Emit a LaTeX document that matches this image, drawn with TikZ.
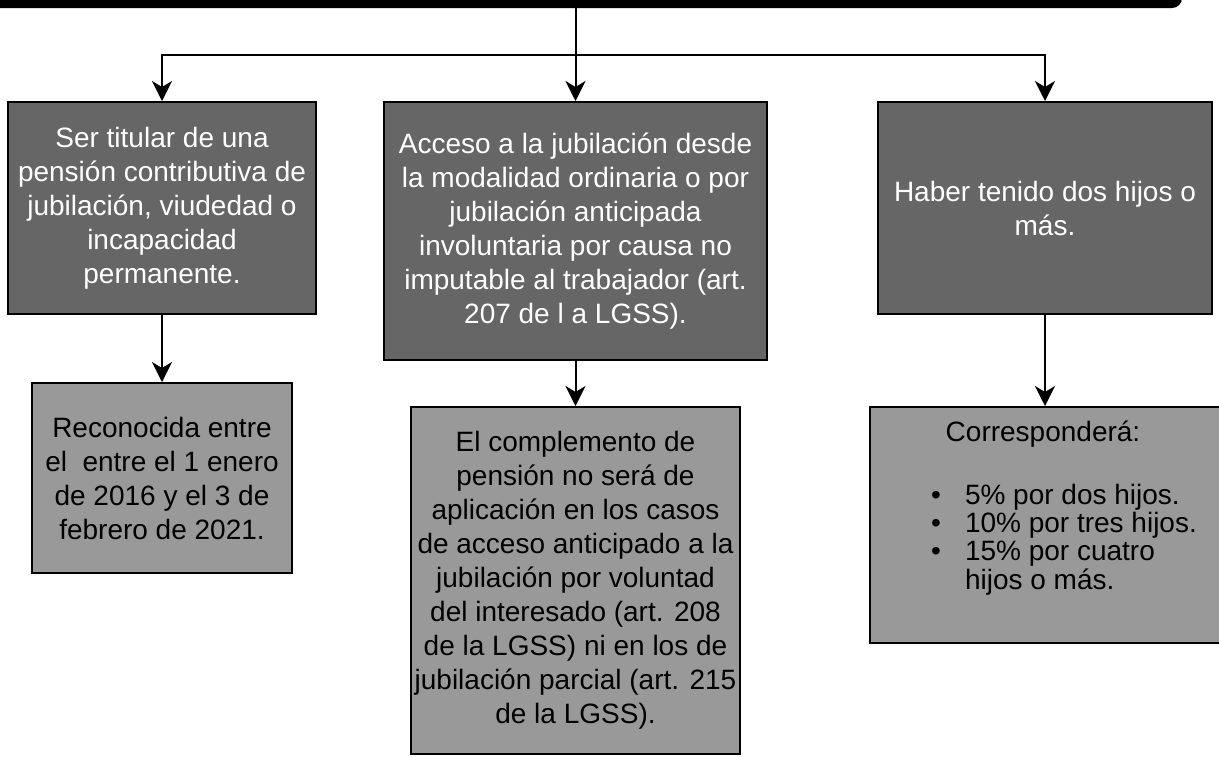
\documentclass[tikz,border=0pt]{standalone}
\usepackage{fontspec}
\setmainfont{Liberation Sans}
\usepackage{xcolor}
\usepackage{tikz}
\usetikzlibrary{positioning,arrows.meta}
\definecolor{boxdark}{HTML}{666666}
\definecolor{boxlight}{HTML}{999999}

\begin{document}
\begin{tikzpicture}[x=1pt, y=-1pt, node distance=50pt,
  every node/.style={inner sep=0pt, align=center, font=\fontsize{28}{34}\selectfont},
  darkbox/.style={draw, line width=2pt, fill=boxdark, text=white},
  lightbox/.style={draw, line width=2pt, fill=boxlight, text=black},
  conn/.style={line width=2pt, -{Stealth[length=20pt, width=20pt, inset=6pt]}}]
\useasboundingbox (0,0) rectangle (1219,756);
\node[fill=black, rounded corners=10pt, minimum width=1202pt, minimum height=48pt] (top) at (581,-16) {};
\node[darkbox, minimum width=308pt, minimum height=212pt] (a1) at (162,208) {Ser titular de una\\pensión contributiva de\\jubilación, viudedad o\\incapacidad\\permanente.};
\node[darkbox, minimum width=383pt, minimum height=258pt] (a2) at (575.5,231) {Acceso a la jubilación desde\\la modalidad ordinaria o por\\jubilación anticipada\\involuntaria por causa no\\imputable al trabajador (art.\\207 de l a LGSS).};
\node[darkbox, minimum width=334pt, minimum height=212pt] (a3) at (1045,208) {Haber tenido dos hijos o\\más.};
\node[lightbox, minimum width=260pt, minimum height=190pt, below=67pt of a1] (b1) {Reconocida entre\\el~\ entre el 1 enero\\de 2016 y el 3 de\\febrero de 2021.};
\node[lightbox, minimum width=329pt, minimum height=347pt, below=45pt of a2] (b2) {El complemento de\\pensión no será de\\aplicación en los casos\\de acceso anticipado a la\\jubilación por voluntad\\del interesado (art. 208\\de la LGSS) ni en los de\\jubilación parcial (art. 215\\de la LGSS).};
\node[lightbox, minimum width=350pt, minimum height=236pt, below=91pt of a3] (b3) {};
\node[anchor=base] (corr) at (1043,441) {Corresponderá:};
\node[anchor=base west, font=\fontsize{28}{27.5}\selectfont] (list) at (931,504) {\begin{tabular}[t]{@{}l@{\hspace{24pt}}l@{}}
•&5\% por dos hijos.\\
•&10\% por tres hijos.\\
•&15\% por cuatro\\
&hijos o más.
\end{tabular}};
\coordinate (split) at (575.5,55);
\draw[conn] (top.south -| a2.north) -- (a2.north);
\draw[conn] (split) -| (a1.north);
\draw[conn] (split) -| (a3.north);
\draw[conn] (a1) -- (b1);
\draw[conn] (a2) -- (b2);
\draw[conn] (a3) -- (b3);
\end{tikzpicture}
\end{document}
